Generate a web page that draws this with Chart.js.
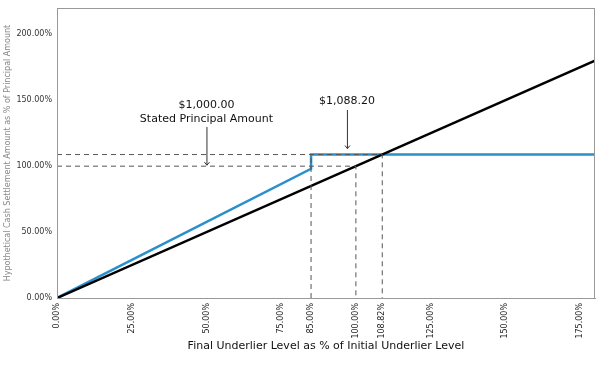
<!DOCTYPE html>
<html>
<head>
<meta charset="utf-8">
<script src="https://cdn.jsdelivr.net/npm/chart.js@4.4.0/dist/chart.umd.min.js"></script>
<style>
  html, body { margin: 0; padding: 0; background: #fff; }
  #wrap { width: 604px; height: 366px; }
</style>
</head>
<body>
<div id="wrap"><canvas id="myChart"></canvas></div>
<script>
// values
var xTicks = [0, 25, 50, 75, 85, 100, 108.82, 125, 150, 175];
var yTicks = [0, 50, 100, 150, 200];

var underlierX = [0, 180];
var underlierY = [0, 180];

var noteX = [0, 85, 85, 180];
var noteY = [0, 98, 108.82, 108.82];

var principalX = [0, 100, 100];
var principalY = [100, 100, 0];

var capX = [0, 108.82, 108.82];
var capY = [108.82, 108.82, 0];

var bufferX = [85, 85];
var bufferY = [0, 108.82];

function pts(xs, ys) {
    return xs.map(function (x, i) { return {x: x, y: ys[i]}; });
}

var FONT = "'DejaVu Sans', sans-serif";

var dashed = {
    borderColor: '#555',
    borderWidth: 1,
    borderDash: [5, 4],
    pointRadius: 0,
    fill: false
};

var boxPlugin = {
    id: 'box',
    afterDraw: function (chart) {
        var c = chart.ctx, a = chart.chartArea;
        var xs = chart.scales.x, ys = chart.scales.y;
        c.save();
        c.strokeStyle = '#999';
        c.lineWidth = 1;
        c.strokeRect(a.left + 0.5, a.top + 0.5, a.right - a.left - 1, a.bottom - a.top);

        // annotations
        c.fillStyle = '#111';
        c.strokeStyle = '#333';
        c.textAlign = 'center';
        c.font = '11px ' + FONT;
        var px = xs.getPixelForValue(50);
        var p100 = ys.getPixelForValue(100);
        c.fillText('$1,000.00', px, 108);
        c.fillText('Stated Principal Amount', px, 122);
        c.beginPath();
        c.moveTo(px + 0.5, 127);
        c.lineTo(px + 0.5, p100 - 1);
        c.stroke();
        c.beginPath();
        c.moveTo(px - 2, p100 - 4);
        c.lineTo(px + 0.5, p100 - 1);
        c.lineTo(px + 3, p100 - 4);
        c.stroke();

        var qx = xs.getPixelForValue(97);
        var p108 = ys.getPixelForValue(108.82);
        c.fillText('$1,088.20', qx, 104);
        c.beginPath();
        c.moveTo(qx + 0.5, 110);
        c.lineTo(qx + 0.5, p108 - 6);
        c.stroke();
        c.beginPath();
        c.moveTo(qx - 2, p108 - 9);
        c.lineTo(qx + 0.5, p108 - 6);
        c.lineTo(qx + 3, p108 - 9);
        c.stroke();
        c.restore();
    }
};

var ctx = document.getElementById('myChart');

var chart = new Chart(ctx, {
    type: 'line',
    data: {
        datasets: [
            Object.assign({data: pts(principalX, principalY)}, dashed),
            Object.assign({data: pts(capX, capY)}, dashed),
            Object.assign({data: pts(bufferX, bufferY)}, dashed),
            {
                data: pts(underlierX, underlierY),
                borderColor: '#000',
                borderWidth: 2.5,
                pointRadius: 0,
                fill: false
            },
            {
                data: pts(noteX, noteY),
                borderColor: '#2a8fcb',
                borderWidth: 2.5,
                pointRadius: 0,
                fill: false
            }
        ]
    },
    options: {
        responsive: true,
        maintainAspectRatio: false,
        animation: false,
        layout: { padding: { top: 8, right: 9, left: 0, bottom: 0 } },
        plugins: { legend: { display: false }, tooltip: { enabled: false } },
        scales: {
            x: {
                type: 'linear',
                min: 0,
                max: 180,
                afterBuildTicks: function (scale) {
                    scale.ticks = xTicks.map(function (v) { return {value: v}; });
                },
                afterFit: function (scale) { scale.height = 68; },
                grid: { display: false, drawTicks: true, tickLength: 3, color: '#999' },
                border: { color: '#999' },
                ticks: {
                    autoSkip: false,
                    minRotation: 90,
                    maxRotation: 90,
                    padding: 2,
                    color: '#222',
                    font: { family: FONT, size: 8 },
                    callback: function (v) { return v.toFixed(2) + '%'; }
                },
                title: {
                    display: true,
                    text: 'Final Underlier Level as % of Initial Underlier Level',
                    color: '#111',
                    font: { family: FONT, size: 11 },
                    padding: { top: 0, bottom: 13 }
                }
            },
            y: {
                type: 'linear',
                min: 0,
                max: 220,
                afterBuildTicks: function (scale) {
                    scale.ticks = yTicks.map(function (v) { return {value: v}; });
                },
                afterFit: function (scale) { scale.width = 57; },
                grid: { display: false, tickLength: 3, color: '#999' },
                border: { color: '#999' },
                ticks: {
                    padding: 2,
                    color: '#333',
                    font: { family: FONT, size: 8 },
                    callback: function (v) { return v.toFixed(2) + '%'; }
                },
                title: {
                    display: true,
                    text: 'Hypothetical Cash Settlement Amount as % of Principal Amount',
                    color: '#888',
                    font: { family: FONT, size: 8 },
                    padding: { top: 3, bottom: 0 }
                }
            }
        }
    },
    plugins: [boxPlugin]
});
</script>
</body>
</html>
